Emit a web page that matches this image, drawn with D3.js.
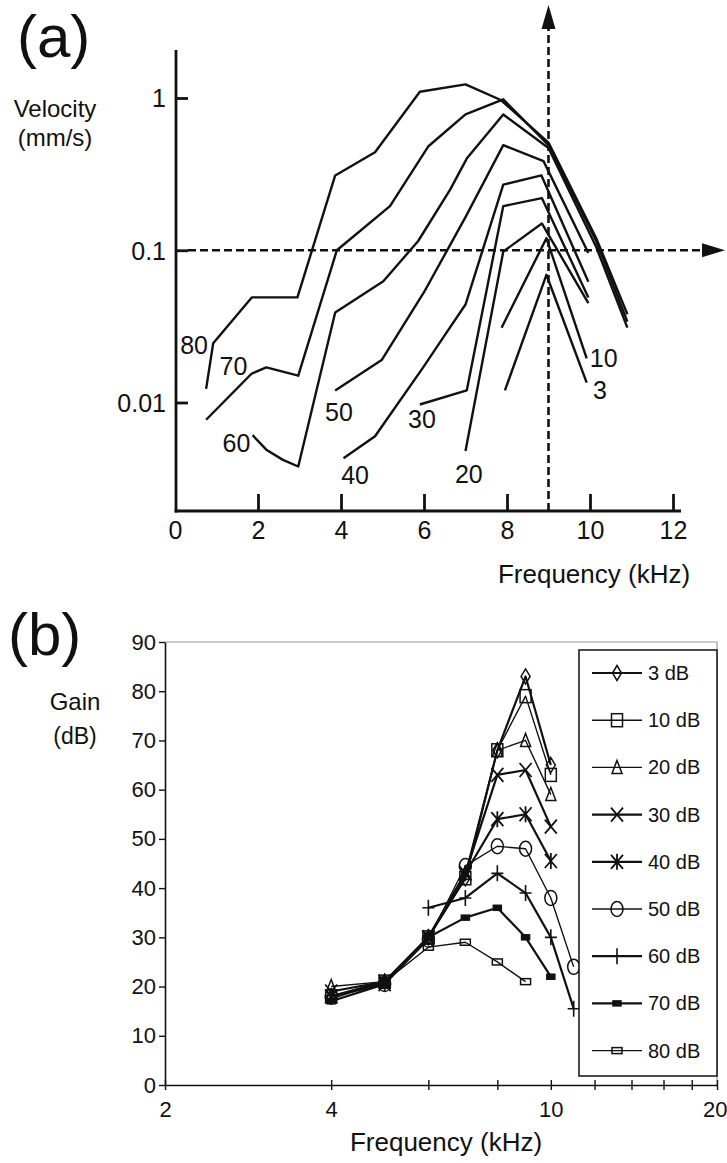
<!DOCTYPE html>
<html><head><meta charset="utf-8">
<script src="https://cdn.jsdelivr.net/npm/d3@7"></script>
<style>
body{margin:0;background:#fff}
svg{display:block}
text{font-family:"Liberation Sans",Arial,Helvetica,sans-serif;fill:#111}
</style>
</head><body>
<svg id="c" width="727" height="1163"></svg>
<script>
// ================= Panel (a) data =================
const freqTicksA = [0, 2, 4, 6, 8, 10, 12];
const velTicks = [0.01, 0.1, 1];
const velTickLabels = ["0.01", "0.1", "1"];
// [frequency kHz, velocity mm/s]
const vel80 = [[0.75,0.0123],[0.92,0.0245],[1.85,0.049],[2.95,0.049],[3.86,0.31],[4.82,0.44],[5.9,1.1],[7.0,1.23],[7.85,0.97],[9.0,0.51],[10.15,0.12],[10.9,0.038]];
const vel70 = [[0.75,0.0077],[1.85,0.0155],[2.2,0.017],[2.97,0.015],[3.9,0.1],[5.18,0.195],[6.1,0.48],[7.0,0.78],[7.91,0.98],[9.0,0.49],[10.15,0.115],[10.9,0.034]];
const vel60 = [[1.87,0.0061],[2.2,0.0049],[2.6,0.0042],[2.97,0.0038],[3.86,0.039],[5.02,0.0625],[5.86,0.115],[6.63,0.25],[7.03,0.40],[7.91,0.78],[9.0,0.47],[10.15,0.105],[10.9,0.031]];
const vel50 = [[3.86,0.012],[4.98,0.019],[6.0,0.053],[7.0,0.165],[7.91,0.49],[8.88,0.385],[9.96,0.096]];
const vel40 = [[4.06,0.0043],[4.82,0.006],[5.98,0.017],[6.55,0.029],[7.0,0.044],[7.91,0.27],[8.83,0.31],[9.96,0.062]];
const vel30 = [[5.9,0.0097],[7.03,0.012],[7.91,0.195],[8.84,0.22],[9.96,0.049]];
const vel20 = [[7.0,0.0048],[7.91,0.098],[8.84,0.15],[9.96,0.045]];
const vel10 = [[7.87,0.031],[8.95,0.12],[9.92,0.0195]];
const vel3  = [[7.95,0.012],[8.95,0.069],[9.92,0.0135]];
const curvesA = [vel80, vel70, vel60, vel50, vel40, vel30, vel20, vel10, vel3];
const curveNamesA = ["80","70","60","50","40","30","20","10","3"];
// label anchors in data units [kHz, velocity]
const curveLabelPos = [[0.46,0.0239],[1.41,0.0174],[1.48,0.00542],[3.95,0.00867],[4.34,0.00334],[5.95,0.0078],[7.08,0.00339],[10.33,0.0196],[10.24,0.0121]];
const markFreq = 9;      // vertical dashed marker
const markVel = 0.1;     // horizontal dashed marker

// ================= Panel (b) data =================
const freqB = [4, 5, 6, 7, 8, 9, 10, 11];
const gain3  = [18, 21, 30, 42, 68, 83, 65, null];
const gain10 = [18, 21, 30, 42, 68, 79, 63, null];
const gain20 = [20, 21, 30, 43, 68, 70, 59, null];
const gain30 = [19, 21, 30, 43, 63, 64, 52.5, null];
const gain40 = [18, 20.5, 30, 43, 54, 55, 45.5, null];
const gain50 = [18, 20.5, 29.5, 44.5, 48.5, 48, 38, 24];
const gain60 = [null, null, 36, 38, 43, 39, 30, 15.5];
const gain70 = [17, 20.5, 30, 34, 36, 30, 22, null];
const gain80 = [17.5, 21, 28, 29, 25, 21, null, null];
const seriesB = [gain3, gain10, gain20, gain30, gain40, gain50, gain60, gain70, gain80];
const seriesNamesB = ["3 dB","10 dB","20 dB","30 dB","40 dB","50 dB","60 dB","70 dB","80 dB"];
const seriesMarkers = ["diamond","square","triangle","cross","star","circle","plus","smallfill","smallrect"];
const seriesWidths = [2.2, 1.4, 1.4, 2.2, 2.2, 1.4, 2.2, 2.2, 1.4];
const gainTicks = [0,10,20,30,40,50,60,70,80,90];
const freqTicksB = [2,4,6,8,10,12,14,16,18,20];
const freqLabelsB = [2,4,10,20];

// ================= Drawing =================
const svg = d3.select("#c");
svg.append("rect").attr("width",727).attr("height",1163).attr("fill","#fff");

// ---------- Panel (a) ----------
const xA = d3.scaleLinear().domain([0,12]).range([175,673]);
const yA = d3.scaleLog().domain([0.01,1]).range([402.5,98]);
const a = svg.append("g");
const axisYA = 176, axisBottomA = 511, axisTopA = 50, axisRightA = 681;

// dashed guides
const dashW = 2.6;
a.append("line").attr("x1",axisYA+12).attr("x2",702).attr("y1",yA(markVel)).attr("y2",yA(markVel))
  .attr("stroke","#111").attr("stroke-width",dashW).attr("stroke-dasharray","8,4");
a.append("path").attr("d",`M702,${yA(markVel)-7}L725,${yA(markVel)}L702,${yA(markVel)+7}Z`).attr("fill","#111");
a.append("line").attr("x1",xA(markFreq)).attr("x2",xA(markFreq)).attr("y1",axisBottomA).attr("y2",28)
  .attr("stroke","#111").attr("stroke-width",dashW).attr("stroke-dasharray","8,4");
a.append("path").attr("d",`M${xA(markFreq)-7},29L${xA(markFreq)},5L${xA(markFreq)+7},29Z`).attr("fill","#111");

// axes
const axXA = d3.axisBottom(xA).tickValues(freqTicksA).tickFormat(d3.format("d")).tickSizeInner(-17).tickSizeOuter(0).tickPadding(10);
const gxA = a.append("g").attr("transform",`translate(0,${axisBottomA})`).call(axXA);
gxA.select(".domain").remove();
gxA.selectAll(".tick line").attr("stroke","#111").attr("stroke-width",2.8).filter(d=>d===0).remove();
gxA.selectAll(".tick text").attr("font-size",25).attr("fill","#111").attr("font-family",null);

const axYA = d3.axisLeft(yA).tickValues(velTicks).tickFormat((d,i)=>velTickLabels[i]).tickSizeInner(-12).tickSizeOuter(0).tickPadding(10);
const gyA = a.append("g").attr("transform",`translate(${axisYA},0)`).call(axYA);
gyA.select(".domain").remove();
gyA.selectAll(".tick line").attr("stroke","#111").attr("stroke-width",2.8);
gyA.selectAll(".tick text").attr("font-size",25).attr("fill","#111").attr("font-family",null).attr("dy","0.35em");

a.append("line").attr("x1",axisYA).attr("x2",axisYA).attr("y1",axisTopA).attr("y2",axisBottomA+1.4).attr("stroke","#111").attr("stroke-width",2.8);
a.append("line").attr("x1",axisYA-1.4).attr("x2",axisRightA).attr("y1",axisBottomA).attr("y2",axisBottomA).attr("stroke","#111").attr("stroke-width",2.8);

// curves
const lineA = d3.line().x(d=>xA(d[0])).y(d=>yA(d[1]));
a.selectAll("path.curve").data(curvesA).enter().append("path").attr("class","curve")
  .attr("d",lineA).attr("fill","none").attr("stroke","#111").attr("stroke-width",2.4).attr("stroke-linejoin","round");

a.selectAll("text.clab").data(curveLabelPos).enter().append("text").attr("class","clab")
  .attr("x",d=>xA(d[0])).attr("y",d=>yA(d[1])).attr("dy","0.35em").attr("text-anchor","middle")
  .attr("font-size",25).text((d,i)=>curveNamesA[i]);

// titles
svg.append("text").attr("x",17).attr("y",57).attr("font-size",60).text("(a)");
svg.append("text").attr("x",55).attr("y",117).attr("text-anchor","middle").attr("font-size",24).text("Velocity");
svg.append("text").attr("x",55).attr("y",146).attr("text-anchor","middle").attr("font-size",24).text("(mm/s)");
svg.append("text").attr("x",594).attr("y",583).attr("text-anchor","middle").attr("font-size",26).text("Frequency (kHz)");

// ---------- Panel (b) ----------
const xB = d3.scaleLog().domain([2,20]).range([165,717]);
const yB = d3.scaleLinear().domain([0,90]).range([1085,642]);
const b = svg.append("g");

// plot border (grey top/right)
b.append("path").attr("d",`M${xB(2)},${yB(90)}H${xB(20)}V${yB(0)}`).attr("fill","none").attr("stroke","#9a9a9a").attr("stroke-width",1.2);

const axYB = d3.axisLeft(yB).tickValues(gainTicks).tickSizeInner(6).tickSizeOuter(0).tickPadding(3);
const gyB = b.append("g").attr("transform",`translate(${xB(2)},0)`).call(axYB);
gyB.select(".domain").attr("stroke","#111").attr("stroke-width",1.6);
gyB.selectAll(".tick line").attr("stroke","#111").attr("stroke-width",1.4);
gyB.selectAll(".tick text").attr("font-size",22).attr("fill","#111").attr("font-family",null);

const axXB = d3.axisBottom(xB).tickValues(freqTicksB).tickFormat(d=>freqLabelsB.includes(d)?String(d):"").tickSizeInner(5).tickSizeOuter(0).tickPadding(11);
const gxB = b.append("g").attr("transform",`translate(0,${yB(0)})`).call(axXB);
gxB.select(".domain").attr("stroke","#111").attr("stroke-width",1.6);
gxB.selectAll(".tick line").attr("stroke","#111").attr("stroke-width",1.4).attr("y1",-5);
gxB.selectAll(".tick text").attr("font-size",22).attr("fill","#111").attr("font-family",null)
  .attr("text-anchor",d=>d===20?"end":"middle").attr("dx",d=>d===20?"10":"0");

// markers
function marker(sel, type, x, y){
  const g = sel.append("g").attr("transform",`translate(${x},${y})`)
    .attr("fill","none").attr("stroke","#111").attr("stroke-width",1.5);
  switch(type){
    case "diamond": g.append("path").attr("d","M0,-7.5L4.5,0L0,7.5L-4.5,0Z"); break;
    case "square": g.append("rect").attr("x",-5.5).attr("y",-6.5).attr("width",11).attr("height",13); break;
    case "triangle": g.append("path").attr("d","M0,-7L5,6L-5,6Z"); break;
    case "cross": g.append("path").attr("d","M-6,-7L6,7M-6,7L6,-7").attr("stroke-width",1.8); break;
    case "star": g.append("path").attr("d","M-6,-7L6,7M-6,7L6,-7M0,-8L0,8").attr("stroke-width",1.8); break;
    case "circle": g.append("ellipse").attr("rx",6).attr("ry",7.5); break;
    case "plus": g.append("path").attr("d","M0,-8L0,8M-6,0L6,0").attr("stroke-width",1.6); break;
    case "smallfill": g.append("rect").attr("x",-4).attr("y",-2.5).attr("width",8).attr("height",5).attr("fill","#111"); break;
    case "smallrect": g.append("rect").attr("x",-5).attr("y",-3).attr("width",10).attr("height",6); break;
  }
}

const lineB = d3.line().defined(d=>d[1]!=null).x(d=>xB(d[0])).y(d=>yB(d[1]));
seriesB.forEach((s,i)=>{
  const pts = freqB.map((f,j)=>[f,s[j]]);
  b.append("path").attr("d",lineB(pts)).attr("fill","none").attr("stroke","#111").attr("stroke-width",seriesWidths[i]).attr("stroke-linejoin","round");
});
seriesB.forEach((s,i)=>{
  freqB.forEach((f,j)=>{ if(s[j]!=null) marker(b, seriesMarkers[i], xB(f), yB(s[j])); });
});

// legend
const leg = b.append("g");
leg.append("rect").attr("x",579).attr("y",650).attr("width",138).attr("height",426).attr("fill","#fff").attr("stroke","#111").attr("stroke-width",1.5);
seriesNamesB.forEach((n,i)=>{
  const y = 673 + i*47.2;
  leg.append("line").attr("x1",592).attr("x2",642).attr("y1",y).attr("y2",y).attr("stroke","#111").attr("stroke-width",seriesWidths[i]);
  marker(leg, seriesMarkers[i], 617, y);
  leg.append("text").attr("x",648).attr("y",y).attr("dy","0.35em").attr("font-size",20).text(n);
});

svg.append("text").attr("x",8).attr("y",655).attr("font-size",60).text("(b)");
svg.append("text").attr("x",75).attr("y",710).attr("text-anchor","middle").attr("font-size",24).text("Gain");
svg.append("text").attr("x",75).attr("y",744).attr("text-anchor","middle").attr("font-size",23).text("(dB)");
svg.append("text").attr("x",446).attr("y",1151).attr("text-anchor","middle").attr("font-size",26).text("Frequency (kHz)");
</script>
</body></html>
